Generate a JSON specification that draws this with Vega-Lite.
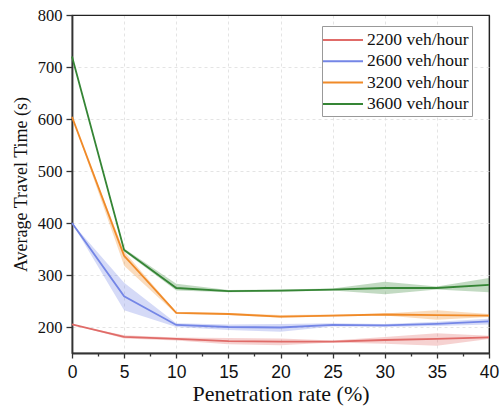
{
  "$schema": "https://vega.github.io/schema/vega-lite/v6.json",
  "width": 417,
  "height": 338,
  "autosize": {"type": "none"},
  "padding": {"left": 72, "top": 15, "right": 13, "bottom": 53},
  "background": "white",
  "config": {
    "view": {"stroke": "#222222", "strokeWidth": 1.2},
    "axis": {
      "domainColor": "#333333",
      "domainWidth": 1.8,
      "tickColor": "#333333",
      "tickWidth": 1.3,
      "gridWidth": 0.8,
      "labelColor": "#111111",
      "titleColor": "#111111",
      "titleFont": "Liberation Serif",
      "titleFontWeight": "normal",
      "labelOverlap": false
    },
    "legend": {
      "labelFont": "Liberation Serif",
      "labelFontSize": 17.5,
      "labelColor": "#111111"
    }
  },
  "data": {
    "values": [
      {"series": "2200 veh/hour", "x": 0, "y": 205, "lo": 205, "hi": 205},
      {"series": "2200 veh/hour", "x": 5, "y": 181, "lo": 178, "hi": 184},
      {"series": "2200 veh/hour", "x": 10, "y": 177, "lo": 174, "hi": 180},
      {"series": "2200 veh/hour", "x": 15, "y": 173, "lo": 167, "hi": 179},
      {"series": "2200 veh/hour", "x": 20, "y": 172, "lo": 165, "hi": 178},
      {"series": "2200 veh/hour", "x": 25, "y": 172, "lo": 170, "hi": 174},
      {"series": "2200 veh/hour", "x": 30, "y": 175, "lo": 168, "hi": 181},
      {"series": "2200 veh/hour", "x": 35, "y": 177, "lo": 164, "hi": 188},
      {"series": "2200 veh/hour", "x": 40, "y": 180, "lo": 177, "hi": 183},
      {"series": "2600 veh/hour", "x": 0, "y": 400, "lo": 400, "hi": 400},
      {"series": "2600 veh/hour", "x": 5, "y": 259, "lo": 232, "hi": 285},
      {"series": "2600 veh/hour", "x": 10, "y": 204, "lo": 200, "hi": 207},
      {"series": "2600 veh/hour", "x": 15, "y": 200, "lo": 194, "hi": 205},
      {"series": "2600 veh/hour", "x": 20, "y": 199, "lo": 191, "hi": 206},
      {"series": "2600 veh/hour", "x": 25, "y": 204, "lo": 201, "hi": 207},
      {"series": "2600 veh/hour", "x": 30, "y": 203, "lo": 200, "hi": 206},
      {"series": "2600 veh/hour", "x": 35, "y": 206, "lo": 202, "hi": 210},
      {"series": "2600 veh/hour", "x": 40, "y": 211, "lo": 205, "hi": 216},
      {"series": "3200 veh/hour", "x": 0, "y": 604, "lo": 604, "hi": 604},
      {"series": "3200 veh/hour", "x": 5, "y": 337, "lo": 318, "hi": 345},
      {"series": "3200 veh/hour", "x": 10, "y": 227, "lo": 225, "hi": 229},
      {"series": "3200 veh/hour", "x": 15, "y": 225, "lo": 223, "hi": 227},
      {"series": "3200 veh/hour", "x": 20, "y": 220, "lo": 218, "hi": 223},
      {"series": "3200 veh/hour", "x": 25, "y": 222, "lo": 220, "hi": 224},
      {"series": "3200 veh/hour", "x": 30, "y": 224, "lo": 222, "hi": 226},
      {"series": "3200 veh/hour", "x": 35, "y": 223, "lo": 214, "hi": 232},
      {"series": "3200 veh/hour", "x": 40, "y": 222, "lo": 219, "hi": 225},
      {"series": "3600 veh/hour", "x": 0, "y": 720, "lo": 720, "hi": 720},
      {"series": "3600 veh/hour", "x": 5, "y": 348, "lo": 345, "hi": 351},
      {"series": "3600 veh/hour", "x": 10, "y": 275, "lo": 270, "hi": 283},
      {"series": "3600 veh/hour", "x": 15, "y": 269, "lo": 267, "hi": 271},
      {"series": "3600 veh/hour", "x": 20, "y": 270, "lo": 268, "hi": 272},
      {"series": "3600 veh/hour", "x": 25, "y": 272, "lo": 270, "hi": 274},
      {"series": "3600 veh/hour", "x": 30, "y": 275, "lo": 263, "hi": 287},
      {"series": "3600 veh/hour", "x": 35, "y": 275, "lo": 272, "hi": 278},
      {"series": "3600 veh/hour", "x": 40, "y": 281, "lo": 267, "hi": 294}
    ]
  },
  "encoding": {
    "x": {
      "field": "x", "type": "quantitative",
      "scale": {"domain": [0, 40], "nice": false},
      "axis": {
        "values": [0, 2.5, 5, 7.5, 10, 12.5, 15, 17.5, 20, 22.5, 25, 27.5, 30, 32.5, 35, 37.5, 40],
        "labelExpr": "datum.value % 5 === 0 ? datum.label : ''",
        "grid": true,
        "gridColor": {"condition": {"test": "datum.value === 40", "value": "#222222"}, "value": "#dddddd"},
        "gridDash": {"condition": {"test": "datum.value === 40", "value": []}, "value": [3, 3]},
        "gridWidth": {"condition": {"test": "datum.value === 40", "value": 1.2}, "value": 0.8},
        "gridOpacity": {"condition": {"test": "datum.value % 5 !== 0 || datum.value === 0", "value": 0}, "value": 1},
        "tickSize": {"condition": {"test": "datum.value % 5 !== 0", "value": 3}, "value": 5},
        "labelFont": "Liberation Sans",
        "labelFontSize": 17.5,
        "labelPadding": 5,
        "labelFlush": false,
        "title": "Penetration rate (%)",
        "titleFontSize": 22,
        "titlePadding": 3
      }
    },
    "color": {
      "field": "series", "type": "nominal",
      "scale": {
        "domain": ["2200 veh/hour", "2600 veh/hour", "3200 veh/hour", "3600 veh/hour"],
        "range": ["#e06b68", "#7486e6", "#f08a28", "#358535"]
      },
      "legend": {
        "orient": "none",
        "legendX": 250,
        "legendY": 11,
        "title": null,
        "symbolType": "M-2,0H2",
        "symbolSize": 400,
        "symbolStrokeWidth": 2,
        "symbolOpacity": 1,
        "symbolOffset": 7,
        "labelOffset": 13,
        "rowPadding": 1.3,
        "padding": 3,
        "strokeColor": "#999999",
        "fillColor": "white"
      }
    }
  },
  "layer": [
    {
      "mark": {"type": "area", "opacity": 0.3},
      "encoding": {
        "y": {
          "field": "lo", "type": "quantitative",
          "scale": {"domain": [150, 800], "nice": false, "zero": false},
          "axis": {
            "values": [200, 250, 300, 350, 400, 450, 500, 550, 600, 650, 700, 750, 800],
            "labelExpr": "datum.value % 100 === 0 ? datum.label : ''",
            "grid": true,
            "gridColor": {"condition": {"test": "datum.value === 800", "value": "#222222"}, "value": "#dddddd"},
            "gridDash": {"condition": {"test": "datum.value === 800", "value": []}, "value": [3, 3]},
            "gridWidth": {"condition": {"test": "datum.value === 800", "value": 1.2}, "value": 0.8},
            "gridOpacity": {"condition": {"test": "datum.value % 100 !== 0", "value": 0}, "value": 1},
            "tickSize": {"condition": {"test": "datum.value % 100 !== 0", "value": 3}, "value": 6},
            "labelFont": "Liberation Serif",
            "labelFontSize": 16.5,
            "labelPadding": 4,
            "labelFlush": false,
            "title": "Average Travel Time (s)",
            "titleFontSize": 18,
            "titlePadding": 7
          }
        },
        "y2": {"field": "hi"}
      }
    },
    {
      "mark": {"type": "line", "strokeWidth": 1.8},
      "encoding": {
        "y": {"field": "y", "type": "quantitative"}
      }
    }
  ]
}
